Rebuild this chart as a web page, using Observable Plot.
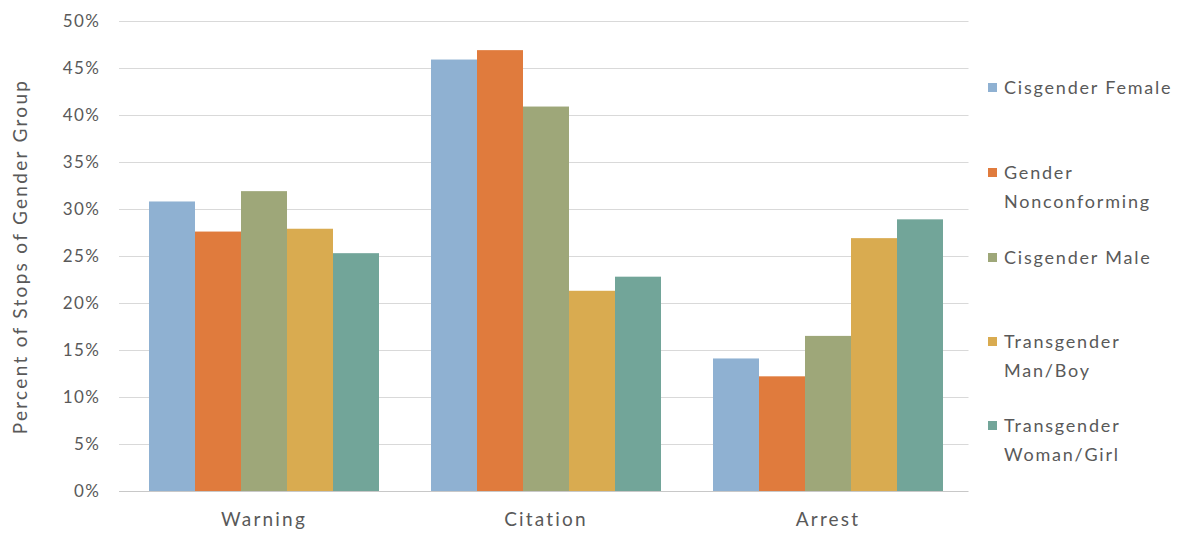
<!DOCTYPE html>
<html>
<head>
<meta charset="utf-8">
<script src="https://cdn.jsdelivr.net/npm/d3@7"></script>
<script src="https://cdn.jsdelivr.net/npm/@observablehq/plot@0.6"></script>
<style>
  html, body { margin: 0; padding: 0; background: #fff; }
  #wrap { position: relative; width: 1183px; height: 533px; font-family: Lato, "Open Sans", sans-serif; color: #595959; }
  #chart svg { display: block; }
  g[aria-label="y-axis label"] text { font-size: 19px; letter-spacing: 2.3px; }
  g[aria-label="y-axis tick label"] text { font-size: 17px; letter-spacing: 1.5px; }
  g[aria-label="fx-axis tick label"] text { font-size: 19px; letter-spacing: 2.2px; }
  #legend { position: absolute; left: 988px; top: 0; width: 195px; font-size: 18px; letter-spacing: 1.8px; }
  .item { position: absolute; left: 0; display: flex; align-items: flex-start; line-height: 29px; white-space: nowrap; }
  .sw { width: 9px; height: 9px; margin-top: 10px; margin-right: 7px; flex: none; }
</style>
</head>
<body>
<div id="wrap">
  <div id="chart"></div>
  <div id="legend"></div>
</div>
<script>
const actions = ["Warning", "Citation", "Arrest"];
const groups = ["Cisgender Female", "Gender Nonconforming", "Cisgender Male", "Transgender Man/Boy", "Transgender Woman/Girl"];
const legendLines = [["Cisgender Female"], ["Gender", "Nonconforming"], ["Cisgender Male"], ["Transgender", "Man/Boy"], ["Transgender", "Woman/Girl"]];
const warningValues = [30.8, 27.6, 31.9, 27.9, 25.3];
const citationValues = [45.9, 46.9, 40.9, 21.3, 22.8];
const arrestValues = [14.1, 12.2, 16.5, 26.9, 28.9];
const colors = ["#8FB1D2", "#E07B3D", "#9EA779", "#D9AB50", "#72A599"];
const yTicks = [0, 5, 10, 15, 20, 25, 30, 35, 40, 45, 50];

const series = [warningValues, citationValues, arrestValues];
const data = [];
actions.forEach((a, i) => groups.forEach((g, j) => data.push({action: a, group: g, value: series[i][j]})));

const chart = Plot.plot({
  width: 1183,
  height: 533,
  marginLeft: 122,
  marginRight: 213,
  marginTop: 21,
  marginBottom: 42,
  style: {fontFamily: "Lato, 'Open Sans', sans-serif", color: "#595959", background: "#fff"},
  fx: {domain: actions, paddingInner: 0.172, paddingOuter: 0.086, label: null},
  x: {domain: groups, padding: 0, axis: null},
  y: {domain: [0, 50], label: null},
  color: {domain: groups, range: colors},
  marks: [
    Plot.ruleY(yTicks.filter(d => d > 0), {stroke: "#d9d9d9", strokeWidth: 1, insetLeft: -28, insetRight: -24.5}),
    Plot.barY(data, {fx: "action", x: "group", y: "value", fill: "group"}),
    Plot.ruleY([0], {stroke: "#c8c8c8", strokeWidth: 1.2, insetLeft: -28, insetRight: -24.5}),
    Plot.axisY({ticks: yTicks, tickSize: 0, tickPadding: 47, tickFormat: d => d + "%",
      label: "Percent of Stops of Gender Group", labelAnchor: "center", labelArrow: "none", labelOffset: 134}),
    Plot.axisFx({anchor: "bottom", tickSize: 0, tickPadding: 21, label: null})
  ]
});
document.getElementById("chart").appendChild(chart);

const legendTops = [73, 158, 243, 327, 411];
const legend = document.getElementById("legend");
groups.forEach((g, i) => {
  const item = document.createElement("div");
  item.className = "item";
  item.style.top = legendTops[i] + "px";
  const sw = document.createElement("div");
  sw.className = "sw";
  sw.style.background = colors[i];
  const txt = document.createElement("div");
  txt.innerHTML = legendLines[i].join("<br>");
  item.appendChild(sw);
  item.appendChild(txt);
  legend.appendChild(item);
});
</script>
</body>
</html>
